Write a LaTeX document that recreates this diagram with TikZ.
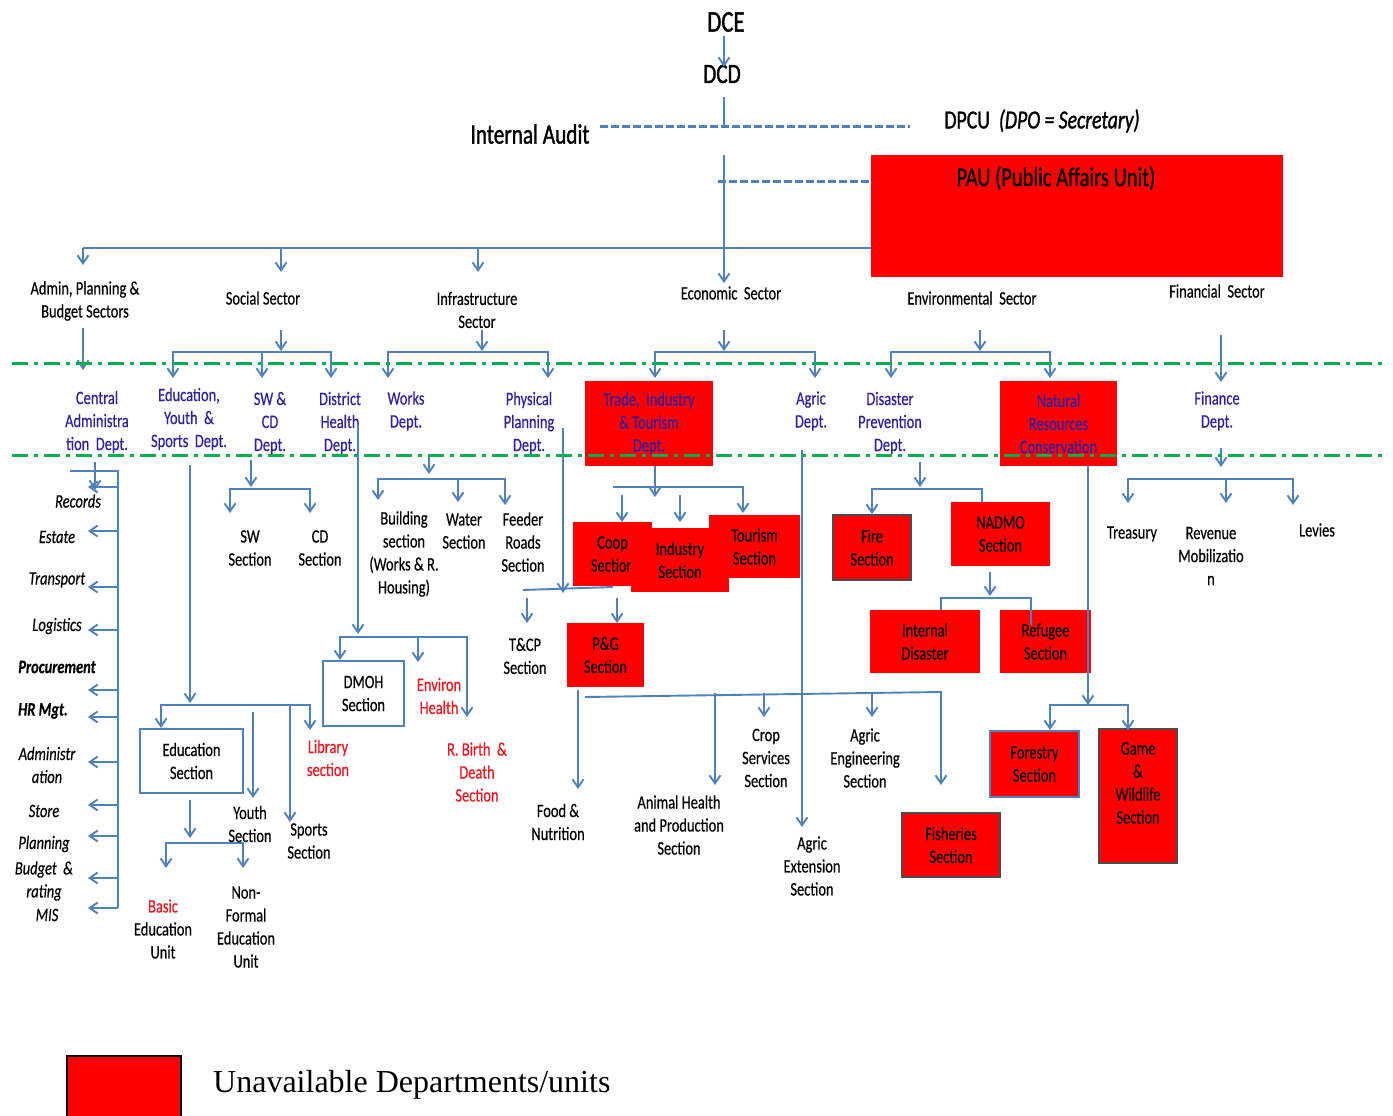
\documentclass[tikz,border=0pt]{standalone}
\usepackage{fontspec}
\setmainfont{Carlito}[FakeStretch=0.76,FakeBold=0.4]
\newfontfamily\heavy{Carlito}[FakeStretch=0.76,FakeBold=1.2]
\newfontfamily\timesf{Liberation Serif}
\usetikzlibrary{arrows.meta}
\definecolor{lblue}{RGB}{79,129,189}
\definecolor{dblue}{RGB}{48,32,160}
\definecolor{rtxt}{RGB}{240,20,30}
\definecolor{gline}{RGB}{0,176,80}
\newcommand\bx[7]{\node[#1,anchor=north west,minimum width={#5pt-#3pt},minimum height={#6pt-#4pt}] (#2) at (#3,#4) {#7};}
\begin{document}
\begin{tikzpicture}[x=1pt,y=-1pt,
  lbl/.style={align=center,inner sep=0pt,outer sep=0pt,font=\fontsize{19}{23}\selectfont},
  dept/.style={lbl,text=dblue},
  redtxt/.style={lbl,text=rtxt},
  side/.style={lbl,font=\fontsize{19}{23}\selectfont\itshape},
  sideb/.style={lbl,font=\fontsize{19}{23}\selectfont\bfseries\itshape},
  bigt/.style={inner sep=0pt,font=\heavy\fontsize{27}{31}\selectfont},
  ln/.style={draw=lblue,line width=1.9pt},
  arr/.style={ln,-{Straight Barb[length=8pt,width=11pt]}},
  darr/.style={ln,{Straight Barb[length=8pt,width=11pt]}-{Straight Barb[length=8pt,width=11pt]}},
  dashline/.style={draw=lblue,line width=3pt,dash pattern=on 8pt off 3pt},
  gdash/.style={draw=gline,line width=3pt,dash pattern=on 16pt off 6pt on 4pt off 6pt},
  redbox/.style={lbl,fill=red,draw=none},
  greybox/.style={lbl,fill=red,draw=gray!60!black,line width=1.5pt},
  rbluebox/.style={lbl,fill=red,draw=lblue,line width=1.5pt},
  bluebox/.style={lbl,fill=white,draw=lblue,line width=1.8pt},
  legbox/.style={fill=red,draw=black,line width=1.5pt,inner sep=0pt}
]
\useasboundingbox (0,0) rectangle (1393,1116);

% ---------- boxes ----------
\bx{redbox}{paub}{871}{155}{1283}{277}{}
\bx{redbox,dept}{trd}{585}{381}{713}{466}{Trade,\ \ Industry\\\& Tourism\\Dept.}
\bx{redbox,dept}{nrc}{1000}{381}{1117}{466}{Natural\\Resources\\Conservation}
\bx{redbox}{coop}{573}{522}{652}{586}{Coop\\Section}
\bx{redbox}{ind}{631}{528}{729}{592}{Industry\\Section}
\bx{redbox}{tour}{709}{515}{800}{578}{Tourism\\Section}
\bx{redbox}{pg}{567}{623}{644}{687}{P\&G\\Section}
\bx{greybox}{fire}{833}{515}{911}{580}{Fire\\Section}
\bx{redbox}{nadmo}{951}{502}{1050}{566}{NADMO\\Section}
\bx{redbox}{intd}{870}{610}{980}{673}{Internal\\Disaster}
\bx{redbox}{refu}{1000}{610}{1091}{673}{Refugee\\Section}
\bx{rbluebox}{fore}{990}{731}{1079}{797}{Forestry\\Section}
\bx{greybox}{gameb}{1099}{729}{1177}{863}{}
\bx{greybox}{fish}{902}{813}{1000}{877}{Fisheries\\Section}
\bx{bluebox}{edsec}{140}{729}{243}{793}{Education\\Section}
\bx{bluebox}{dmoh}{323}{661}{404}{726}{DMOH\\Section}
\bx{legbox}{leg}{66}{1055}{180}{1119}{}

% ---------- top texts ----------
\node[bigt,font=\heavy\fontsize{30}{34}\selectfont] (dce) at (726,22) {DCE};
\node[bigt,font=\heavy\fontsize{28}{32}\selectfont] (dcd) at (722,74) {DCD};
\node[bigt,font=\heavy\fontsize{28}{32}\selectfont] (ia) at (530,134) {Internal Audit};
\node[bigt,font=\heavy\fontsize{26}{30}\selectfont] (dpcu) at (1042,121) {DPCU\ \ \textit{(DPO\,=\,Secretary)}};
\node[bigt] (pau) at (1056,178) {PAU (Public Affairs Unit)};

% ---------- coordinates ----------
\coordinate (t1) at (724,36); \coordinate (t2) at (724,67);
\coordinate (t3) at (724,97); \coordinate (t4) at (724,126);
\coordinate (ia1) at (600,126); \coordinate (ia2) at (910,126);
\coordinate (t5) at (724,155); \coordinate (t6) at (724,283);
\coordinate (pa1) at (718,181);
\coordinate (h1) at (83,248); \coordinate (h1t) at (83,265);
\coordinate (h2) at (281,248); \coordinate (h2t) at (281,272);
\coordinate (h3) at (478,248); \coordinate (h3t) at (478,272);

\draw[arr] (t1) -- (t2);
\draw[ln] (t3) -- (t4);
\draw[dashline] (ia1) -- (ia2);
\draw[arr] (t5) -- (t6);
\draw[dashline] (pa1) -- (pa1 -| paub.west);
\draw[ln] (h1) -- (h1 -| paub.west);
\draw[arr] (h1) -- (h1t);
\draw[arr] (h2) -- (h2t);
\draw[arr] (h3) -- (h3t);

% ---------- sectors ----------
\node[lbl] (adm) at (85,301) {Admin, Planning \&\\Budget Sectors};
\node[lbl] (soc) at (263,298) {Social Sector};
\node[lbl] (inf) at (477,310) {Infrastructure\\Sector};
\node[lbl] (eco) at (731,293) {Economic\ \ Sector};
\node[lbl] (env) at (972,298) {Environmental\ \ Sector};
\node[lbl] (fin) at (1217,291) {Financial\ \ Sector};

\coordinate (a1) at (83,328); \coordinate (a2) at (83,370);
\draw[arr] (a1) -- (a2);
\coordinate (s1) at (281,330); \coordinate (s2) at (281,351);
\coordinate (s3) at (173,378); \coordinate (s4) at (173,352);
\coordinate (s5) at (331,352); \coordinate (s6) at (331,378);
\coordinate (s7) at (262,352); \coordinate (s8) at (262,378);
\draw[arr] (s1) -- (s2);
\draw[darr] (s3) -- (s4) -- (s5) -- (s6);
\draw[arr] (s7) -- (s8);
\coordinate (i1) at (482,330); \coordinate (i2) at (482,351);
\coordinate (i3) at (388,378); \coordinate (i4) at (388,352);
\coordinate (i5) at (548,352); \coordinate (i6) at (548,378);
\draw[arr] (i1) -- (i2);
\draw[darr] (i3) -- (i4) -- (i5) -- (i6);
\coordinate (e1) at (724,330); \coordinate (e2) at (724,351);
\coordinate (e3) at (655,378); \coordinate (e4) at (655,352);
\coordinate (e5) at (815,352); \coordinate (e6) at (815,378);
\draw[arr] (e1) -- (e2);
\draw[darr] (e3) -- (e4) -- (e5) -- (e6);
\coordinate (v1) at (980,330); \coordinate (v2) at (980,351);
\coordinate (v3) at (891,378); \coordinate (v4) at (891,352);
\coordinate (v5) at (1050,352); \coordinate (v6) at (1050,378);
\draw[arr] (v1) -- (v2);
\draw[darr] (v3) -- (v4) -- (v5) -- (v6);
\coordinate (f1) at (1221,335); \coordinate (f2) at (1221,382);
\draw[arr] (f1) -- (f2);

% ---------- departments ----------
\node[dept] (cad) at (97,422) {Central\\Administra\\tion\ \ Dept.};
\node[dept] (edud) at (189,419) {Education,\\Youth\ \ \&\\Sports\ \ Dept.};
\node[dept] (swd) at (270,423) {SW \&\\CD\\Dept.};
\node[dept] (dhd) at (340,423) {District\\Health\\Dept.};
\node[dept] (wkd) at (406,411) {Works\\Dept.};
\node[dept] (ppd) at (529,423) {Physical\\Planning\\Dept.};
\node[dept] (agd) at (811,411) {Agric\\Dept.};
\node[dept] (dpd) at (890,423) {Disaster\\Prevention\\Dept.};
\node[dept] (fnd) at (1217,411) {Finance\\Dept.};

% ---------- left column ----------
\coordinate (c1) at (95,462); \coordinate (c2) at (95,490);
\coordinate (c3) at (70,471); \coordinate (c4) at (118,471); \coordinate (c5) at (118,908);
\draw[arr] (c1) -- (c2);
\draw[ln] (c3) -- (c4) -- (c5);
\foreach \yy [count=\i] in {487,531,587,630,690,717,762,805,836,878,908}
  {\coordinate (L\i) at (88,\yy); \draw[arr] (c5 |- L\i) -- (L\i);}
\node[side] (rec) at (78,501) {Records};
\node[side] (est) at (57,537) {Estate};
\node[side] (tra) at (57,580) {Transport};
\node[side] (log) at (57,626) {Logistics};
\node[sideb] (proc) at (57,667) {Procurement};
\node[sideb] (hrm) at (43,711) {HR Mgt.};
\node[side] (adn) at (47,765) {Administr\\ation};
\node[side] (sto) at (44,811) {Store};
\node[side] (pla) at (44,844) {Planning};
\node[side] (bud) at (44,881) {Budget\ \ \&\\rating};
\node[side] (mis) at (47,915) {MIS};

% ---------- education subtree ----------
\coordinate (ed1) at (190,465); \coordinate (ed2) at (190,703);
\coordinate (eb1) at (161,728); \coordinate (eb2) at (161,705);
\coordinate (eb3) at (310,705); \coordinate (eb4) at (310,730);
\coordinate (y1) at (253,712); \coordinate (y2) at (253,798);
\coordinate (sp1) at (290,705); \coordinate (sp2) at (290,822);
\coordinate (ed3) at (190,800); \coordinate (ed4) at (190,838);
\coordinate (bb1) at (166,868); \coordinate (bb2) at (166,843);
\coordinate (bb3) at (243,843); \coordinate (bb4) at (243,868);
\draw[arr] (ed1) -- (ed2);
\draw[darr] (eb1) -- (eb2) -- (eb3) -- (eb4);
\draw[arr] (y1) -- (y2);
\draw[arr] (sp1) -- (sp2);
\draw[arr] (ed3) -- (ed4);
\draw[darr] (bb1) -- (bb2) -- (bb3) -- (bb4);
\node[lbl] (basic) at (163,929) {\textcolor{rtxt}{Basic}\\Education\\Unit};
\node[lbl] (nonf) at (246,927) {Non-\\Formal\\Education\\Unit};
\node[lbl] (youth) at (250,824) {Youth\\Section};
\node[lbl] (sports) at (309,841) {Sports\\Section};
\node[redtxt] (lib) at (328,758) {Library\\section};

% ---------- SW & CD ----------
\coordinate (sw1) at (251,460); \coordinate (sw2) at (251,487);
\coordinate (sb1) at (230,513); \coordinate (sb2) at (230,489);
\coordinate (sb3) at (310,489); \coordinate (sb4) at (310,513);
\draw[arr] (sw1) -- (sw2);
\draw[darr] (sb1) -- (sb2) -- (sb3) -- (sb4);
\node[lbl] (sws) at (250,548) {SW\\Section};
\node[lbl] (cds) at (320,548) {CD\\Section};

% ---------- District health ----------
\coordinate (dh1) at (358,425); \coordinate (dh2) at (358,634);
\coordinate (db1) at (340,660); \coordinate (db2) at (340,637);
\coordinate (db3) at (467,637); \coordinate (db4) at (467,717);
\coordinate (dh3) at (418,637); \coordinate (dh4) at (418,662);
\draw[arr] (dh1) -- (dh2);
\draw[darr] (db1) -- (db2) -- (db3) -- (db4);
\draw[arr] (dh3) -- (dh4);
\node[redtxt] (envh) at (439,696) {Environ\\Health};
\node[redtxt] (rbd) at (477,772) {R. Birth\ \ \&\\Death\\Section};

% ---------- Works ----------
\coordinate (w1) at (429,455); \coordinate (w2) at (429,474);
\coordinate (wb1) at (378,500); \coordinate (wb2) at (378,479);
\coordinate (wb3) at (505,479); \coordinate (wb4) at (505,505);
\coordinate (w3) at (458,479); \coordinate (w4) at (458,502);
\draw[arr] (w1) -- (w2);
\draw[darr] (wb1) -- (wb2) -- (wb3) -- (wb4);
\draw[arr] (w3) -- (w4);
\node[lbl] (bld) at (404,554) {Building\\section\\(Works \& R.\\Housing)};
\node[lbl] (wat) at (464,531) {Water\\Section};
\node[lbl] (fdr) at (523,542) {Feeder\\Roads\\Section};

% ---------- Physical planning ----------
\coordinate (p1) at (563,428); \coordinate (p2) at (563,593);
\coordinate (p3) at (523,590); \coordinate (p4) at (613,587);
\coordinate (p5) at (527,598); \coordinate (p6) at (527,623);
\coordinate (p7) at (617,598); \coordinate (p8) at (617,623);
\draw[arr] (p1) -- (p2);
\draw[ln] (p3) -- (p4);
\draw[arr] (p5) -- (p6);
\draw[arr] (p7) -- (p8);
\node[lbl] (tcp) at (525,656) {T\&CP\\Section};

% ---------- Trade ----------
\coordinate (tr1) at (655,466); \coordinate (tr2) at (655,497);
\coordinate (tr3) at (613,487); \coordinate (tr4) at (743,487); \coordinate (tr5) at (743,513);
\coordinate (tr6) at (622,495); \coordinate (tr7) at (622,522);
\coordinate (tr8) at (680,495); \coordinate (tr9) at (680,522);
\draw[arr] (tr1) -- (tr2);
\draw[arr] (tr3) -- (tr4) -- (tr5);
\draw[arr] (tr6) -- (tr7);
\draw[arr] (tr8) -- (tr9);

% ---------- Agric ----------
\coordinate (ag1) at (802,450); \coordinate (ag2) at (802,827);
\coordinate (ag3) at (585,697); \coordinate (ag4) at (941,692); \coordinate (ag5) at (941,785);
\coordinate (fn1) at (578,690); \coordinate (fn2) at (578,789);
\coordinate (ah1) at (715,693); \coordinate (ah2) at (715,785);
\coordinate (cs1) at (764,693); \coordinate (cs2) at (764,717);
\coordinate (ae1) at (872,693); \coordinate (ae2) at (872,717);
\draw[arr] (ag1) -- (ag2);
\draw[arr] (ag3) -- (ag4) -- (ag5);
\draw[arr] (fn1) -- (fn2);
\draw[arr] (ah1) -- (ah2);
\draw[arr] (cs1) -- (cs2);
\draw[arr] (ae1) -- (ae2);
\node[lbl] (food) at (558,822) {Food \&\\Nutrition};
\node[lbl] (anim) at (679,825) {Animal Health\\and Production\\Section};
\node[lbl] (crop) at (766,758) {Crop\\Services\\Section};
\node[lbl] (aeng) at (865,758) {Agric\\Engineering\\Section};
\node[lbl] (aext) at (812,866) {Agric\\Extension\\Section};

% ---------- Disaster ----------
\coordinate (dp1) at (920,462); \coordinate (dp2) at (920,487);
\coordinate (dp3) at (872,514); \coordinate (dp4) at (872,489);
\coordinate (dp5) at (982,489); \coordinate (dp6) at (982,502);
\coordinate (nd1) at (990,572); \coordinate (nd2) at (990,596);
\coordinate (nd3) at (941,610); \coordinate (nd4) at (941,598);
\coordinate (nd5) at (1031,598); \coordinate (nd6) at (1031,625);
\draw[arr] (dp1) -- (dp2);
\draw[arr] (dp6) -- (dp5) -- (dp4) -- (dp3);
\draw[arr] (nd1) -- (nd2);
\draw[ln] (nd3) -- (nd4) -- (nd5) -- (nd6);

% ---------- Natural resources ----------
\coordinate (nr1) at (1088,466); \coordinate (nr2) at (1088,705);
\coordinate (nb1) at (1050,730); \coordinate (nb2) at (1050,705);
\coordinate (nb3) at (1128,705); \coordinate (nb4) at (1128,730);
\draw[arr] (nr1) -- (nr2);
\draw[darr] (nb1) -- (nb2) -- (nb3) -- (nb4);
\node[lbl] (game) at (1138,783) {Game\\\&\\Wildlife\\Section};

% ---------- Finance ----------
\coordinate (fi1) at (1221,448); \coordinate (fi2) at (1221,467);
\coordinate (fb1) at (1128,503); \coordinate (fb2) at (1128,479);
\coordinate (fb3) at (1293,479); \coordinate (fb4) at (1293,505);
\coordinate (fi3) at (1226,479); \coordinate (fi4) at (1226,503);
\draw[arr] (fi1) -- (fi2);
\draw[darr] (fb1) -- (fb2) -- (fb3) -- (fb4);
\draw[arr] (fi3) -- (fi4);
\node[lbl] (treas) at (1132,534) {Treasury};
\node[lbl] (rev) at (1211,556) {Revenue\\Mobilizatio\\n};
\node[lbl] (lev) at (1317,530) {Levies};

% ---------- green separators ----------
\coordinate (g1) at (12,363); \coordinate (g2) at (1382,363);
\coordinate (g3) at (12,455); \coordinate (g4) at (1382,455);
\draw[gdash] (g1) -- (g2);
\draw[gdash] (g3) -- (g4);

% ---------- legend ----------
\node[anchor=west,inner sep=0pt,font=\timesf\fontsize{32}{37}\selectfont] (legt) at (213,1085) {Unavailable Departments/units};
\end{tikzpicture}
\end{document}
